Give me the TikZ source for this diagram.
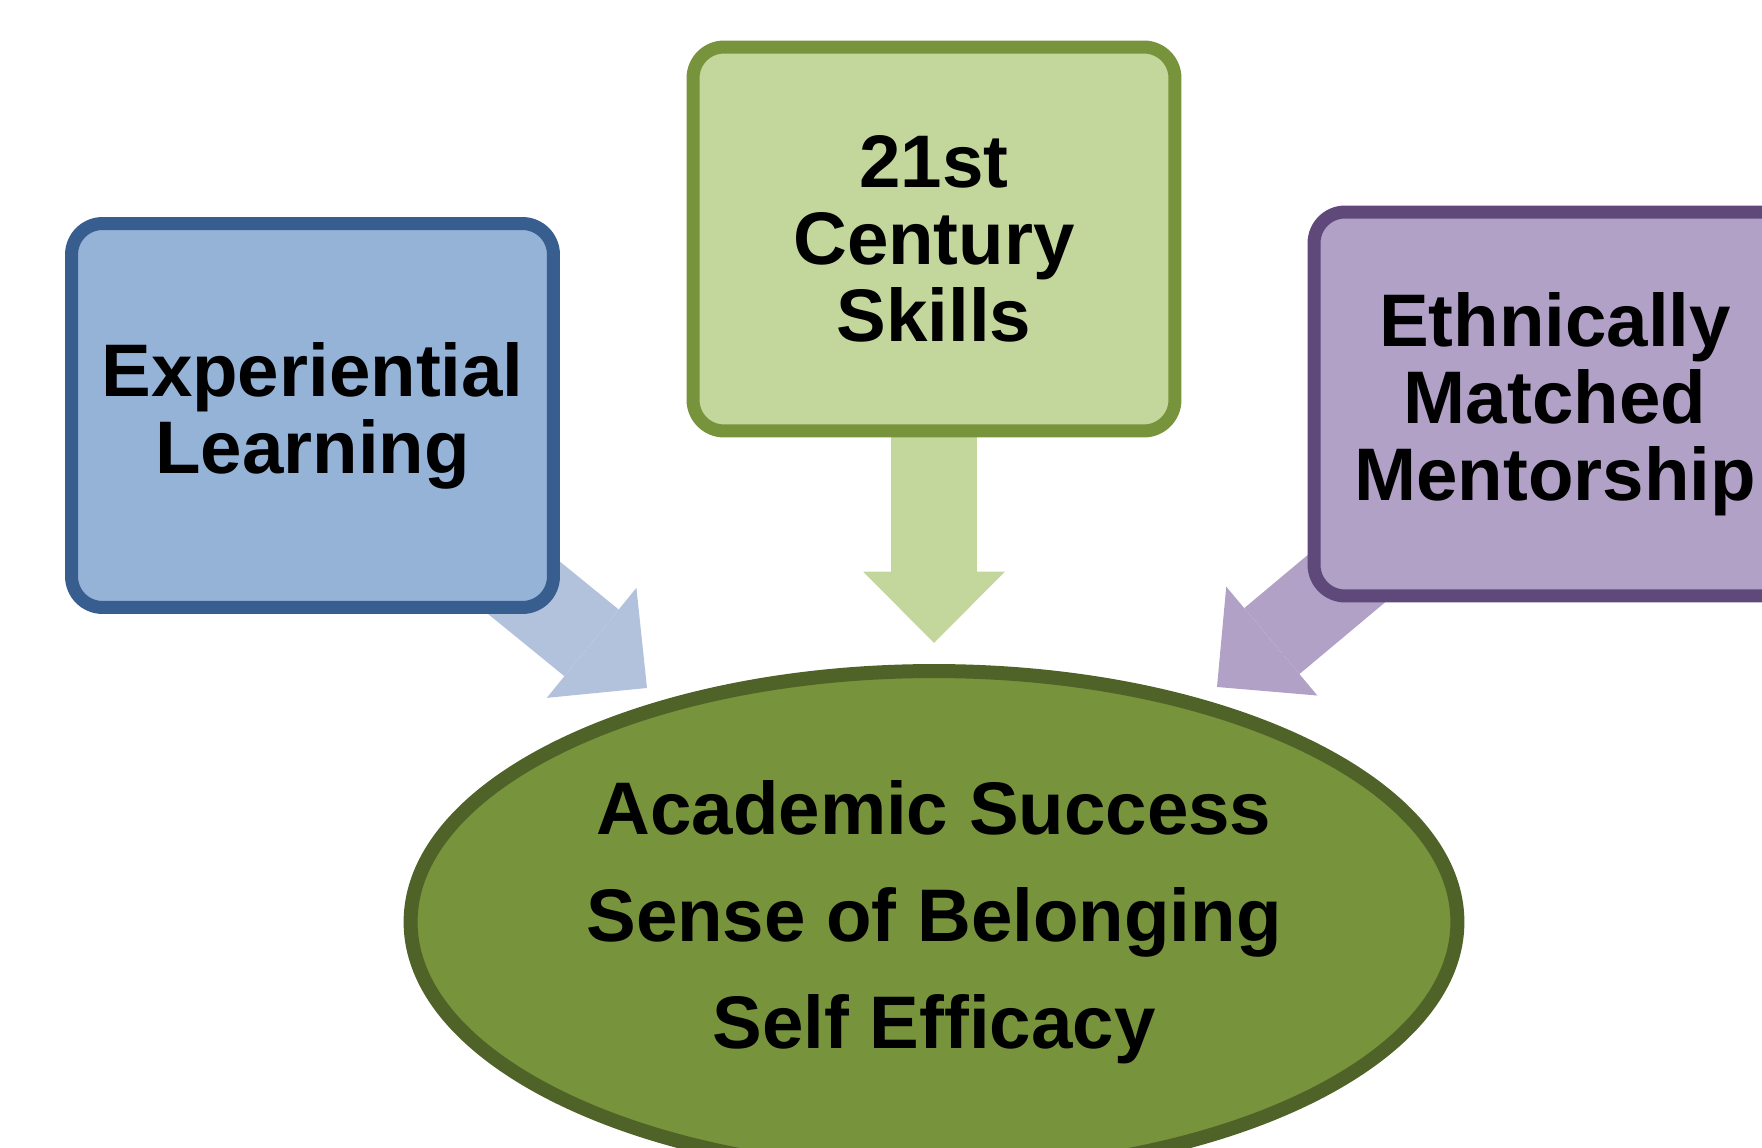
\documentclass[tikz,border=0pt]{standalone}
\usepackage{fontspec}
\setmainfont{Liberation Sans}
\usetikzlibrary{shapes.geometric,arrows.meta,backgrounds}
\definecolor{bluefill}{RGB}{149,179,215}
\definecolor{blueline}{RGB}{56,94,143}
\definecolor{bluearrow}{RGB}{178,193,220}
\definecolor{greenfill}{RGB}{195,214,155}
\definecolor{greenline}{RGB}{119,147,60}
\definecolor{purplefill}{RGB}{178,161,199}
\definecolor{purpleline}{RGB}{95,73,122}
\definecolor{ovalfill}{RGB}{119,147,60}
\definecolor{ovalline}{RGB}{79,98,40}
\def\boxnode{\node[rectangle,rounded corners=0.62cm,line width=0.26cm,minimum width=9.64cm,minimum height=7.68cm,align=center,font=\fontsize{42.4}{43.8}\selectfont\bfseries]}
\def\ovalnode{\node[ellipse,draw=ovalline,fill=ovalfill,line width=0.28cm,minimum width=20.94cm,minimum height=10.04cm,inner sep=0pt,align=center,font=\fontsize{42.4}{60.9}\selectfont\bfseries]}
\def\drawarrow{\draw[line width=1.72cm,-{Triangle[width=2.84cm,length=1.43cm,line width=0pt]}]}

\begin{document}
\begin{tikzpicture}[x=0.02cm,y=-0.02cm]
\useasboundingbox (0,0) rectangle (1762,1148);
\boxnode[draw=blueline,fill=bluefill] (exp) at (312.5,415.5) {Experiential\\Learning};
\boxnode[draw=greenline,fill=greenfill] (skills) at (934,239) {21st\\Century\\Skills};
\boxnode[draw=purpleline,fill=purplefill] (mentor) at (1555,404) {Ethnically\\Matched\\Mentorship};
\ovalnode (outcome) at (934,922) {Academic Success\\Sense of Belonging\\Self Efficacy};
\coordinate (tipexp) at (647,688);
\coordinate (tipskills) at (934,643);
\coordinate (tipmentor) at (1217,687);
\begin{pgfonlayer}{background}
\drawarrow[bluearrow] (exp.center) -- (tipexp);
\drawarrow[greenfill] (skills.center) -- (tipskills);
\drawarrow[purplefill] (mentor.center) -- (tipmentor);
\end{pgfonlayer}
\end{tikzpicture}
\end{document}
